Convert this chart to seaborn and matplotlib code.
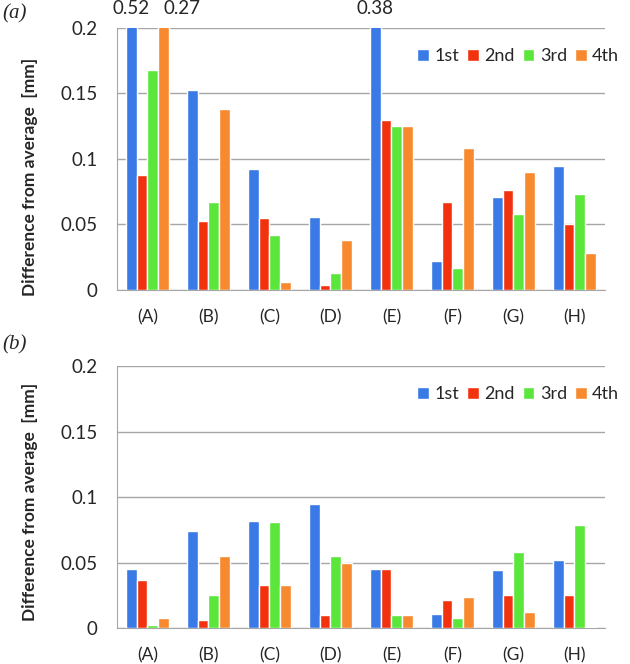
import matplotlib
matplotlib.use("Agg")
import matplotlib.pyplot as plt
import seaborn as sns
import pandas as pd

# Category labels and series names
categories = ['(A)', '(B)', '(C)', '(D)', '(E)', '(F)', '(G)', '(H)']
series = ['1st', '2nd', '3rd', '4th']

# Panel (a) values [mm]
a_1st = [0.52, 0.153, 0.092, 0.056, 0.38, 0.022, 0.071, 0.095]
a_2nd = [0.088, 0.053, 0.055, 0.004, 0.130, 0.067, 0.076, 0.050]
a_3rd = [0.168, 0.067, 0.042, 0.013, 0.125, 0.017, 0.058, 0.073]
a_4th = [0.27, 0.138, 0.006, 0.038, 0.125, 0.108, 0.090, 0.028]

# Panel (b) values [mm]
b_1st = [0.045, 0.074, 0.082, 0.095, 0.045, 0.011, 0.044, 0.052]
b_2nd = [0.037, 0.006, 0.033, 0.010, 0.045, 0.021, 0.025, 0.025]
b_3rd = [0.002, 0.025, 0.081, 0.055, 0.010, 0.008, 0.058, 0.079]
b_4th = [0.008, 0.055, 0.033, 0.050, 0.010, 0.024, 0.012, 0.001]

colors = ['#3a7ae6', '#f2320f', '#5ae63a', '#f7892f']


def to_long(cols):
    rows = []
    for name, vals in zip(series, cols):
        for cat, v in zip(categories, vals):
            rows.append({'cat': cat, 'run': name, 'val': v})
    return pd.DataFrame(rows)


df_a = to_long([a_1st, a_2nd, a_3rd, a_4th])
df_b = to_long([b_1st, b_2nd, b_3rd, b_4th])

sns.set_style("white")
plt.rcParams['font.family'] = ['Lato', 'DejaVu Sans']

fig = plt.figure(figsize=(6.3, 6.64), dpi=100)
ax_a = fig.add_axes([0.1857, 0.5633, 0.7746, 0.3946])
ax_b = fig.add_axes([0.1857, 0.0542, 0.7746, 0.3946])

for ax, df, label_y in [(ax_a, df_a, 0.43), (ax_b, df_b, 0.48)]:
    sns.barplot(data=df, x='cat', y='val', hue='run', palette=colors,
                width=0.72, gap=0, saturation=1, ax=ax, zorder=3)
    ax.set_ylim(0, 0.2)
    ax.set_xlim(-0.5, 7.5)
    ax.set_yticks([0, 0.05, 0.1, 0.15, 0.2])
    ax.set_yticklabels(['0', '0.05', '0.1', '0.15', '0.2'])
    ax.yaxis.grid(True, color='#a6a6a6', linewidth=1.0, zorder=0)
    ax.set_axisbelow(True)
    for s in ['top', 'right']:
        ax.spines[s].set_visible(False)
    ax.spines['left'].set_color('#a6a6a6')
    ax.spines['bottom'].set_color('#a6a6a6')
    ax.tick_params(axis='y', length=0, pad=14, labelsize=13.5)
    ax.tick_params(axis='x', length=0, pad=14, labelsize=12.5)
    ax.set_xlabel('')
    ax.set_ylabel('Difference from average  [mm]', fontsize=12.5, fontweight='bold')
    ax.yaxis.set_label_coords(-0.162, label_y)
    ax.legend(loc='center left', bbox_to_anchor=(0.6, 0.893), ncol=4,
              frameon=False, fontsize=13, handlelength=0.65, handleheight=0.65,
              handletextpad=0.3, columnspacing=0.45, borderaxespad=0)

# values of bars that exceed the axis in panel (a)
n = len(categories)
for si, vals in enumerate([a_1st, a_2nd, a_3rd, a_4th]):
    patches = ax_a.patches[si * n:(si + 1) * n]
    for p, v in zip(patches, vals):
        if v > 0.2:
            x = p.get_x() + p.get_width() / 2
            if si == 3:
                x += 0.3
            ax_a.text(x, 0.2145, f'{v:.2f}', ha='center', va='center',
                      fontsize=13.5, clip_on=False)

fig.text(0.003, 0.993, '(a)', fontsize=15, va='top',
         family='Liberation Serif', style='italic')
fig.text(0.003, 0.495, '(b)', fontsize=15, va='top',
         family='Liberation Serif', style='italic')

fig.savefig('out.png', dpi=100)
